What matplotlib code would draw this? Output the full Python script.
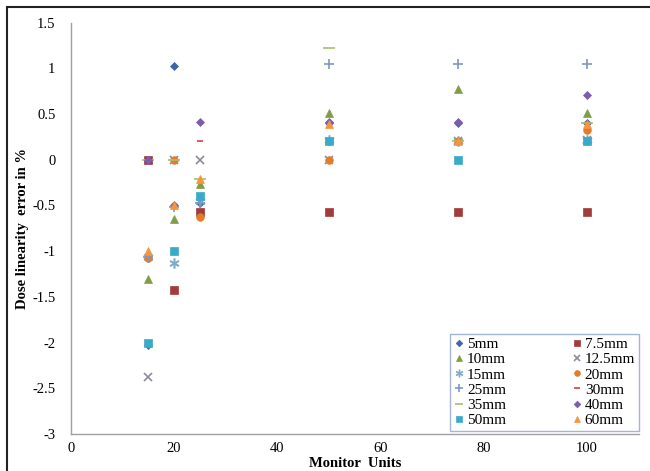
import matplotlib.pyplot as plt
from matplotlib.patches import Rectangle

plt.rcParams['font.family'] = ['Liberation Serif', 'DejaVu Serif']

monitor_units = [15, 20, 25, 50, 75, 100]

fields = ["5mm", "7.5mm", "10mm", "12.5mm", "15mm", "20mm",
          "25mm", "30mm", "35mm", "40mm", "50mm", "60mm"]

err_5 = [-2.03, 1.02, -0.47, 0.40, 0.40, 0.40]
err_7_5 = [0.0, -1.42, -0.57, -0.57, -0.57, -0.57]
err_10 = [-1.30, -0.65, -0.27, 0.51, 0.77, 0.51]
err_12_5 = [-2.38, 0.0, 0.0, 0.0, 0.20, 0.22]
err_15 = [-1.06, -1.13, -0.45, 0.22, 0.20, 0.22]
err_20 = [-1.07, 0.0, -0.63, 0.0, 0.20, 0.32]
err_25 = [-1.06, -0.52, -0.47, 1.05, 1.05, 1.05]
err_30 = [0.0, -0.50, 0.20, 0.40, 0.20, 0.40]
err_35 = [0.0, 0.0, -0.21, 1.22, 0.20, 0.40]
err_40 = [0.0, -0.50, 0.41, 0.41, 0.41, 0.71]
err_50 = [-2.0, -1.0, -0.40, 0.20, 0.0, 0.20]
err_60 = [-1.0, -0.50, -0.21, 0.39, 0.20, 0.39]

errors = [err_5, err_7_5, err_10, err_12_5, err_15, err_20,
          err_25, err_30, err_35, err_40, err_50, err_60]

# marker, colour, size per series (Excel style)
styles = [
    ("D", "#3f66a8", 4.5),
    ("s", "#a33b3b", 5.5),
    ("^", "#7f9e45", 6),
    ("x", "#8c8c9c", 6),
    ("$\\ast$", "#7fa9c5", 7),
    ("o", "#e07c2c", 5.5),
    ("+", "#7d97c6", 7),
    ("_", "#d8403e", 5),
    ("_", "#a8c070", 8),
    ("D", "#7b5daa", 4.5),
    ("s", "#3aaac9", 5.5),
    ("^", "#f7953a", 6),
]

fig = plt.figure(figsize=(6.5, 4.71), dpi=100)
ax = fig.add_axes([70.7 / 650, 1 - 434 / 471, 568 / 650, (434 - 22.5) / 471])

handles = []
for name, vals, (m, c, s) in zip(fields, errors, styles):
    lw = 1.2 if m in ("x", "+", "_") else 0.5
    h, = ax.plot(monitor_units, vals, linestyle="none", marker=m, color=c,
                 markersize=s, markeredgewidth=lw, label=name)
    handles.append(h)

ax.set_xlim(0, 110)
ax.set_ylim(-3, 1.5)
ax.set_xticks([0, 20, 40, 60, 80, 100])
ax.set_yticks([-3, -2.5, -2, -1.5, -1, -0.5, 0, 0.5, 1, 1.5])
ax.set_yticklabels(["-3", "-2.5", "-2", "-1.5", "-1", "-0.5", "0", "0.5", "1", "1.5"])
ax.tick_params(length=0, labelsize=10.5)
ax.tick_params(axis="y", pad=11)
ax.tick_params(axis="x", pad=6)
for side in ("top", "right"):
    ax.spines[side].set_visible(False)
for side in ("left", "bottom"):
    ax.spines[side].set_color("#a0a0a0")
    ax.spines[side].set_linewidth(1.0)

ax.set_xlabel("Monitor  Units", fontsize=10.5, fontweight="bold", labelpad=1)
ax.set_ylabel("Dose linearity  error in %", fontsize=10.5, fontweight="bold", labelpad=2)

# legend filled row by row, like the original
order = [0, 2, 4, 6, 8, 10, 1, 3, 5, 7, 9, 11]
leg = ax.legend([handles[i] for i in order], [fields[i] for i in order],
                ncol=2, loc="lower right", bbox_to_anchor=(639 / 650, 1 - 431 / 471),
                bbox_transform=fig.transFigure, fontsize=11, frameon=True,
                fancybox=False, borderpad=0.25, labelspacing=0.1,
                handlelength=0.7, handletextpad=0.15, columnspacing=4.3,
                borderaxespad=0, markerscale=0.75)
leg.get_frame().set_edgecolor("#8ea3c8")
leg.get_frame().set_linewidth(1.0)

# outer frame of the figure
fig.patches.append(Rectangle((7 / 650, -0.05), 1.2, 1 - 7 / 471 + 0.05,
                             transform=fig.transFigure, fill=False,
                             edgecolor="#222222", linewidth=1.5))

fig.savefig("out.png", dpi=100)
